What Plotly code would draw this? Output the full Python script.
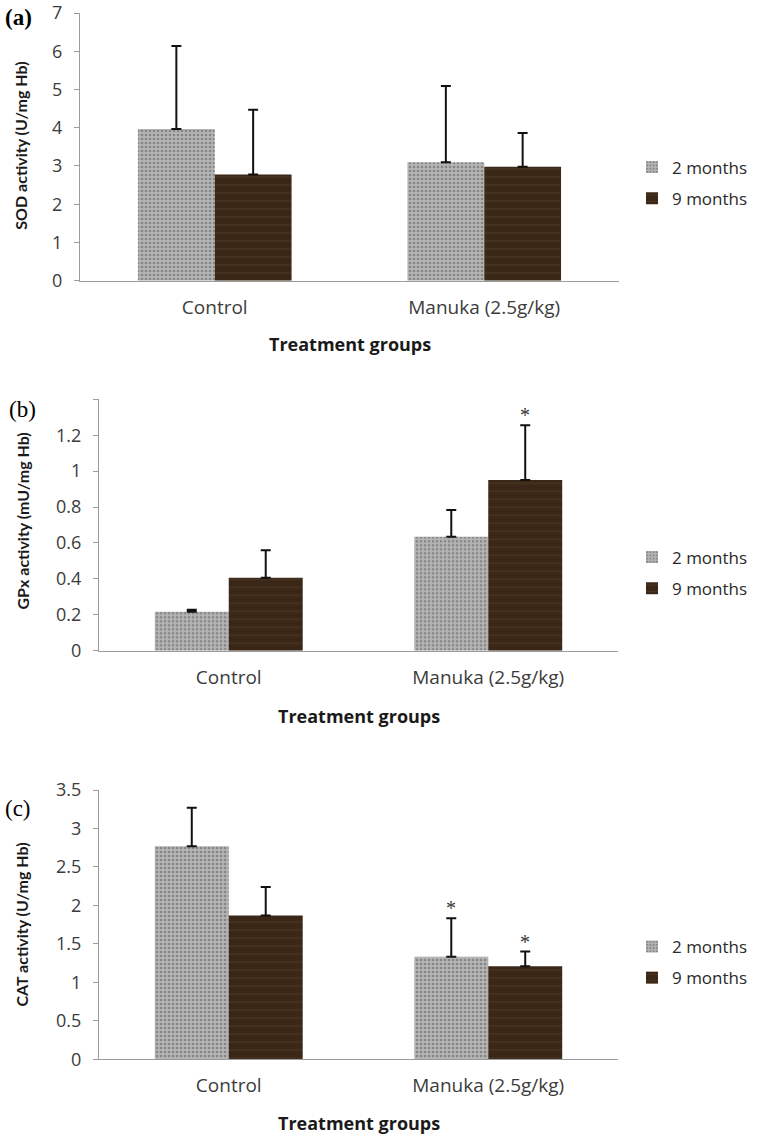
import plotly.graph_objects as go

# ---------------- data ----------------
categories = ["Control", "Manuka (2.5g/kg)"]
series_names = ["2 months", "9 months"]

sod_2m = [3.97, 3.10]
sod_2m_err = [2.17, 1.99]
sod_9m = [2.78, 2.98]
sod_9m_err = [1.69, 0.88]
sod_2m_sig = [False, False]
sod_9m_sig = [False, False]

gpx_2m = [0.217, 0.634]
gpx_2m_err = [0.011, 0.149]
gpx_9m = [0.406, 0.95]
gpx_9m_err = [0.154, 0.306]
gpx_2m_sig = [False, False]
gpx_9m_sig = [False, True]

cat_2m = [2.77, 1.333]
cat_2m_err = [0.50, 0.50]
cat_9m = [1.87, 1.21]
cat_9m_err = [0.37, 0.19]
cat_2m_sig = [False, True]
cat_9m_sig = [False, True]

sod_ticks = [0, 1, 2, 3, 4, 5, 6, 7]
sod_ticktext = ["0", "1", "2", "3", "4", "5", "6", "7"]
gpx_ticks = [0, 0.2, 0.4, 0.6, 0.8, 1.0, 1.2, 1.4]
gpx_ticktext = ["0", "0.2", "0.4", "0.6", "0.8", "1", "1.2", ""]
cat_ticks = [0, 0.5, 1, 1.5, 2, 2.5, 3, 3.5]
cat_ticktext = ["0", "0.5", "1", "1.5", "2", "2.5", "3", "3.5"]

panel_labels = ["(a)", "(b)", "(c)"]
y_titles = ["SOD activity (U/mg Hb)", "GPx activity (mU/mg Hb)", "CAT activity (U/mg Hb)"]
x_title = "Treatment groups"

# ---------------- layout geometry (pixels) ----------------
W, H = 759, 1135
def px(x):
    return x / W
def py(y):
    return 1 - y / H

BARGAP = 0.43
panels = [
    dict(v2=sod_2m, e2=sod_2m_err, s2=sod_2m_sig, v9=sod_9m, e9=sod_9m_err, s9=sod_9m_sig,
         ticks=sod_ticks, ticktext=sod_ticktext, yr=[0, 7],
         x0=80, x1=619, ytop=13, ybot=280.7,
         label_xy=(18, 18), label_bold=True,
         ytitle_x=21, ytitle_yc=145.7,
         xtitle_y=343.5, leg_y=183),
    dict(v2=gpx_2m, e2=gpx_2m_err, s2=gpx_2m_sig, v9=gpx_9m, e9=gpx_9m_err, s9=gpx_9m_sig,
         ticks=gpx_ticks, ticktext=gpx_ticktext, yr=[0, 1.4],
         x0=99, x1=618, ytop=399.3, ybot=650.7,
         label_xy=(22, 410), label_bold=False,
         ytitle_x=22, ytitle_yc=521.5,
         xtitle_y=716, leg_y=573),
    dict(v2=cat_2m, e2=cat_2m_err, s2=cat_2m_sig, v9=cat_9m, e9=cat_9m_err, s9=cat_9m_sig,
         ticks=cat_ticks, ticktext=cat_ticktext, yr=[0, 3.5],
         x0=99, x1=618, ytop=790, ybot=1059.3,
         label_xy=(18, 808), label_bold=False,
         ytitle_x=21, ytitle_yc=924.5,
         xtitle_y=1123.3, leg_y=962.5),
]

GRAN = dict(shape=".", bgcolor="#b4b4b4", fgcolor="#555555", size=4, solidity=0.35)
WOOD = dict(shape="-", bgcolor="#3a2717", fgcolor="#5f4830", size=8, solidity=0.12)

TICK_FONT = dict(family="Open Sans", size=18, color="#3c3c3c")
AXIS_COLOR = "#9c9c9c"

fig = go.Figure()
annotations = []

for i, p in enumerate(panels):
    n = "" if i == 0 else str(i + 1)
    xa, ya = "x" + n, "y" + n
    leg = "legend" + n
    for name, vals, errs, style in [(series_names[0], p["v2"], p["e2"], GRAN),
                                    (series_names[1], p["v9"], p["e9"], WOOD)]:
        fig.add_trace(go.Bar(
            x=categories, y=vals, name=name, xaxis=xa, yaxis=ya,
            legend=leg, legendgroup=f"{leg}-{name}",
            marker=dict(color=style["bgcolor"], pattern=style, line=dict(width=0)),
            error_y=dict(type="data", array=errs, arrayminus=[0] * len(errs), symmetric=False,
                         color="#111111", thickness=2, width=5),
        ))
    # axes
    fig.layout["xaxis" + n] = dict(
        domain=[px(p["x0"]), px(p["x1"])], anchor=ya, type="category",
        showline=True, linecolor=AXIS_COLOR, linewidth=1.2, ticks="",
        tickfont=dict(family="Open Sans", size=19, color="#3c3c3c"),
        ticklabelstandoff=9, showgrid=False, zeroline=False, fixedrange=True)
    fig.layout["yaxis" + n] = dict(
        domain=[py(p["ybot"]), py(p["ytop"])], anchor=xa, range=p["yr"],
        tickvals=p["ticks"], ticktext=p["ticktext"],
        showline=True, linecolor=AXIS_COLOR, linewidth=1.2,
        ticks="outside", ticklen=5, tickcolor=AXIS_COLOR, tickwidth=1.2,
        tickfont=TICK_FONT, ticklabelstandoff=8, ticklabeloverflow="allow",
        showgrid=False, zeroline=False, fixedrange=True)
    # legend
    fig.layout[leg] = dict(
        x=px(632), y=py(p["leg_y"]), xanchor="left", yanchor="middle",
        xref="paper", yref="paper",
        font=dict(family="Open Sans", size=17, color="#2a2a2a"),
        bgcolor="rgba(0,0,0,0)", borderwidth=0, tracegroupgap=6, traceorder="grouped")
    # panel label
    lt = panel_labels[i]
    annotations.append(dict(
        text=f"<b>{lt}</b>" if p["label_bold"] else lt,
        x=px(p["label_xy"][0]), y=py(p["label_xy"][1]), xref="paper", yref="paper",
        xanchor="center", yanchor="middle", showarrow=False,
        font=dict(family="Liberation Serif", size=23, color="#000000")))
    # y title
    annotations.append(dict(
        text=f"<b>{y_titles[i]}</b>", textangle=-90,
        x=px(p["ytitle_x"]), y=py(p["ytitle_yc"]), xref="paper", yref="paper",
        xanchor="center", yanchor="middle", showarrow=False,
        font=dict(family="Lato", size=16, color="#1a1a1a")))
    # x title
    annotations.append(dict(
        text=f"<b>{x_title}</b>",
        x=px((p["x0"] + p["x1"]) / 2), y=py(p["xtitle_y"]), xref="paper", yref="paper",
        xanchor="center", yanchor="middle", showarrow=False,
        font=dict(family="Open Sans", size=18, color="#1a1a1a")))
    # significance asterisks
    bar_px = (p["x1"] - p["x0"]) / len(categories) * (1 - BARGAP) / 2
    for vals, errs, sig, sgn in [(p["v2"], p["e2"], p["s2"], -1), (p["v9"], p["e9"], p["s9"], 1)]:
        for c, v, e, s in zip(categories, vals, errs, sig):
            if s:
                annotations.append(dict(
                    text="*", x=c, y=v + e, xref=xa, yref=ya,
                    xshift=sgn * bar_px / 2, yshift=10,
                    xanchor="center", yanchor="middle", showarrow=False,
                    font=dict(family="Liberation Serif", size=20, color="#333333")))

fig.update_layout(
    width=W, height=H,
    margin=dict(l=0, r=0, t=0, b=0, autoexpand=False),
    paper_bgcolor="white", plot_bgcolor="white",
    barmode="group", bargap=BARGAP, bargroupgap=0,
    annotations=annotations,
    font=dict(family="Open Sans"),
)

fig.write_html("out.html", config={"displayModeBar": False},
               post_script="document.body.style.margin='0px';")
